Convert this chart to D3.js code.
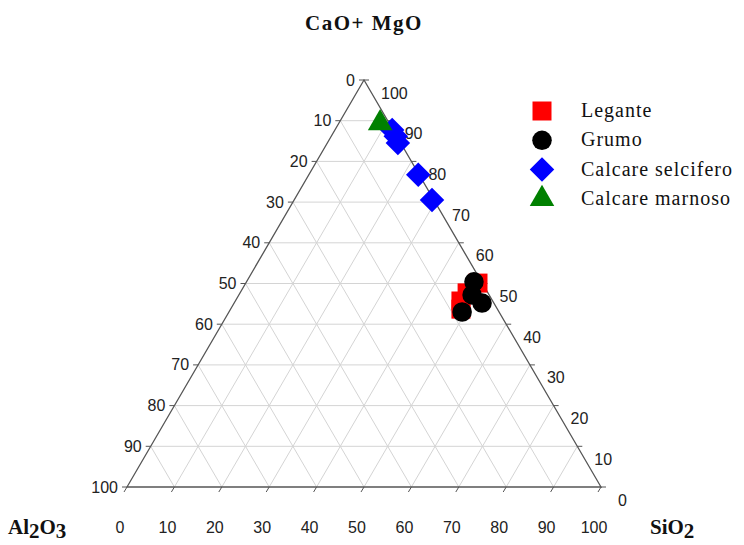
<!DOCTYPE html>
<html>
<head>
<meta charset="utf-8">
<style>
  body { margin: 0; background: #fff; }
  svg { display: block; }
  .grid line { stroke: #d4d4d4; stroke-width: 1; }
  .edge { stroke: #555; stroke-width: 1.3; fill: none; }
  .tick { stroke: #555; stroke-width: 1; }
  .tlab { font: 16px "Liberation Sans", sans-serif; fill: #222; }
  .title { font: bold 21px "Liberation Serif", serif; fill: #111; }
  .leg { font: 20px "Liberation Serif", serif; fill: #111; letter-spacing: 1px; }
</style>
</head>
<body>
<svg width="744" height="545"></svg>
<script src="https://d3js.org/d3.v7.min.js"></script>
<script>

// tick values, same on all three sides
var ticks = [0, 10, 20, 30, 40, 50, 60, 70, 80, 90, 100];

// series: CaO+MgO, Al2O3, SiO2 (%)
var leganteCaO = [50.1, 47.7, 45.7, 43.7];
var leganteAl  = [0.9, 4.4, 6.7, 7.7];
var leganteSi  = [49.0, 47.9, 47.6, 48.6];

var grumoCaO = [50.4, 47.2, 45.2, 43.0];
var grumoAl  = [1.6, 3.6, 2.5, 7.8];
var grumoSi  = [48.0, 49.2, 52.3, 49.2];

var selciferoCaO = [87.7, 86.2, 84.5, 76.7, 70.5];
var selciferoAl  = [0.2, 0.2, 0.6, 0.2, 0.4];
var selciferoSi  = [12.1, 13.6, 14.9, 23.1, 29.1];

var marnosoCaO = [89.4];
var marnosoAl  = [1.9];
var marnosoSi  = [8.7];

var seriesNames = ["Legante", "Grumo", "Calcare selcifero", "Calcare marnoso"];
var seriesColors = ["#ff0000", "#000000", "#0000ff", "#008000"];

var svg = d3.select("svg");

// ternary projection: y from CaO+MgO, x from SiO2 + half of CaO+MgO
var y = d3.scaleLinear().domain([0, 100]).range([487, 80]);
var x = d3.scaleLinear().domain([0, 100]).range([127, 601]);
function px(a, b, c) { return x(c + a / 2); }
function py(a, b, c) { return y(a); }

function toRows(A, B, C) {
  return A.map(function(d, i) { return {a: A[i], b: B[i], c: C[i]}; });
}

var series = [
  {name: seriesNames[0], color: seriesColors[0], type: "square", rows: toRows(leganteCaO, leganteAl, leganteSi)},
  {name: seriesNames[1], color: seriesColors[1], type: "circle", rows: toRows(grumoCaO, grumoAl, grumoSi)},
  {name: seriesNames[2], color: seriesColors[2], type: "diamond", rows: toRows(selciferoCaO, selciferoAl, selciferoSi)},
  {name: seriesNames[3], color: seriesColors[3], type: "triangle", rows: toRows(marnosoCaO, marnosoAl, marnosoSi)}
];

// grid
var inner = ticks.slice(1, -1);
var grid = svg.append("g").attr("class", "grid");
inner.forEach(function(k) {
  var segs = [
    [[k, 100 - k, 0], [k, 0, 100 - k]],     // const CaO+MgO
    [[0, 100 - k, k], [100 - k, 0, k]],     // const SiO2
    [[0, k, 100 - k], [100 - k, k, 0]]      // const Al2O3
  ];
  segs.forEach(function(s) {
    grid.append("line")
      .attr("x1", px.apply(null, s[0])).attr("y1", py.apply(null, s[0]))
      .attr("x2", px.apply(null, s[1])).attr("y2", py.apply(null, s[1]));
  });
});

// triangle edges
var corners = [[100, 0, 0], [0, 100, 0], [0, 0, 100]];
svg.append("path")
    .attr("class", "edge")
    .attr("d", "M" + corners.map(function(p) { return px.apply(null, p) + "," + py.apply(null, p); }).join("L") + "Z");

// ticks + labels
var tg = svg.append("g");
ticks.forEach(function(v) {
  // left side (Al2O3)
  var lx = px(100 - v, v, 0), ly = py(100 - v, v, 0);
  tg.append("line").attr("class", "tick").attr("x1", lx).attr("y1", ly).attr("x2", lx - 5).attr("y2", ly);
  tg.append("text").attr("class", "tlab").attr("x", lx - 9).attr("y", ly)
      .attr("text-anchor", "end").attr("dominant-baseline", "central").text(v);
  // bottom (SiO2)
  var bx = px(0, 100 - v, v), by = py(0, 100 - v, v);
  tg.append("line").attr("class", "tick").attr("x1", bx).attr("y1", by).attr("x2", bx - 3).attr("y2", by + 5);
  tg.append("text").attr("class", "tlab").attr("x", bx - 7).attr("y", 533)
      .attr("text-anchor", "middle").text(v);
  // right side (CaO+MgO)
  var rx = px(v, 0, 100 - v), ry = py(v, 0, 100 - v);
  tg.append("line").attr("class", "tick").attr("x1", rx).attr("y1", ry).attr("x2", rx + 5).attr("y2", ry);
  tg.append("text").attr("class", "tlab").attr("x", rx + 17).attr("y", ry + 13)
      .attr("dominant-baseline", "central").text(v);
});

// axis titles
svg.append("text").attr("class", "title").attr("x", 364).attr("y", 30)
    .attr("text-anchor", "middle").style("letter-spacing", "1.5px").text("CaO+ MgO");

var al = svg.append("text").attr("class", "title").attr("x", 8).attr("y", 534);
al.append("tspan").text("Al");
al.append("tspan").attr("dy", 4).text("2");
al.append("tspan").attr("dy", -4).text("O");
al.append("tspan").attr("dy", 4).text("3");

var si = svg.append("text").attr("class", "title").attr("x", 650).attr("y", 534);
si.append("tspan").text("SiO");
si.append("tspan").attr("dy", 4).text("2");

// markers
function symbolFor(type) {
  if (type === "square") return d3.symbol().type(d3.symbolSquare).size(361);
  if (type === "circle") return d3.symbol().type(d3.symbolCircle).size(300);
  if (type === "diamond") return d3.symbol().type(d3.symbolSquare).size(300);
  return d3.symbol().type(d3.symbolTriangle).size(260);
}
function rot(type) { return type === "diamond" ? " rotate(45)" : ""; }

series.forEach(function(s) {
  svg.append("g").selectAll("path")
    .data(s.rows)
    .enter().append("path")
      .attr("d", symbolFor(s.type)())
      .attr("fill", s.color)
      .attr("transform", function(d) {
        return "translate(" + px(d.a, d.b, d.c) + "," + py(d.a, d.b, d.c) + ")" + rot(s.type);
      });
});

// legend
var leg = svg.append("g").selectAll("g")
    .data(series)
    .enter().append("g")
      .attr("transform", function(d, i) { return "translate(542," + (111 + i * 29.3) + ")"; });
leg.append("path")
    .attr("d", function(d) { return symbolFor(d.type)(); })
    .attr("fill", function(d) { return d.color; })
    .attr("transform", function(d) { return rot(d.type).trim(); });
leg.append("text")
    .attr("class", "leg")
    .attr("x", 39)
    .attr("y", 6)
    .text(function(d) { return d.name; });

</script>
</body>
</html>
